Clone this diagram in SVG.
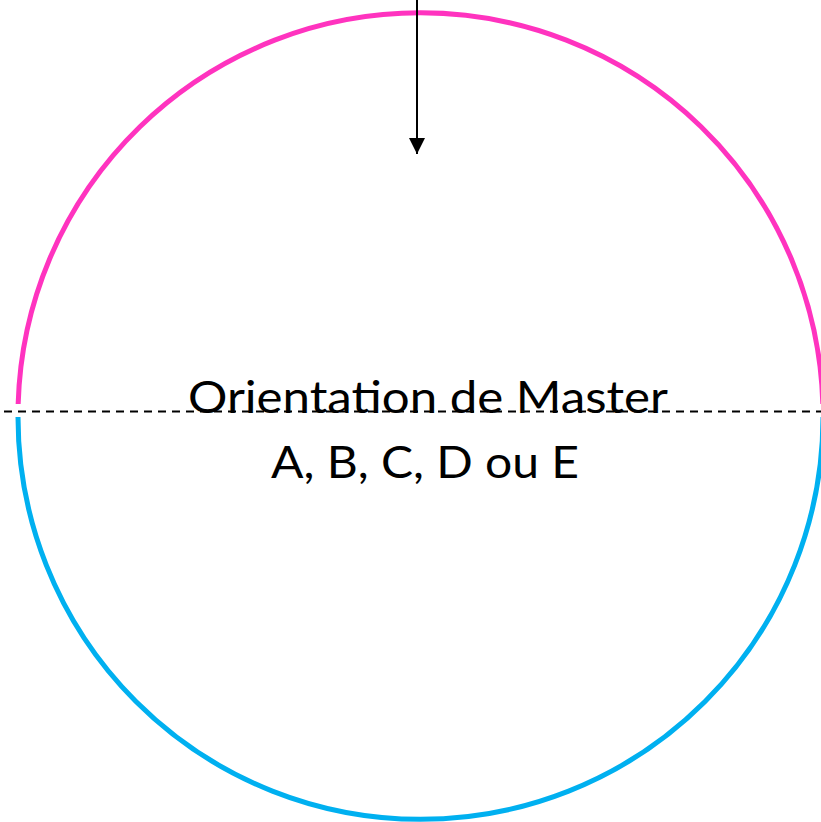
<svg xmlns="http://www.w3.org/2000/svg" width="821" height="822" viewBox="0 0 821 822">
<style>
.lbl{font-family:Lato,"Open Sans","Liberation Sans",sans-serif;font-size:45px;fill:#000;text-anchor:middle}
</style>
<defs>
<marker id="ah" markerWidth="16" markerHeight="16" refX="16" refY="8" orient="auto" markerUnits="userSpaceOnUse">
<path d="M0,0 L16,8 L0,16 Z" fill="#000"/>
</marker>
</defs>
<rect width="821" height="822" fill="#fff"/>
<g id="circle">
<path d="M18.16,404 A402.5,402.5 0 0 1 822.84,404" fill="none" stroke="#ff33bf" stroke-width="5"/>
<path d="M18.0,417 A402.5,402.5 0 0 0 823.0,417" fill="none" stroke="#00b0f0" stroke-width="5"/>
</g>
<g id="connectors">
<line x1="0" y1="411.5" x2="821" y2="411.5" stroke="#000" stroke-width="2" stroke-dasharray="8,6" stroke-dashoffset="-4"/>
<line x1="417" y1="0" x2="417" y2="154" stroke="#000" stroke-width="2" marker-end="url(#ah)"/>
</g>
<g id="label">
<text class="lbl" x="428" y="413" textLength="480" lengthAdjust="spacingAndGlyphs">Orientation de Master</text>
<text class="lbl" x="425" y="478" textLength="308" lengthAdjust="spacingAndGlyphs">A, B, C, D ou E</text>
</g>
</svg>
